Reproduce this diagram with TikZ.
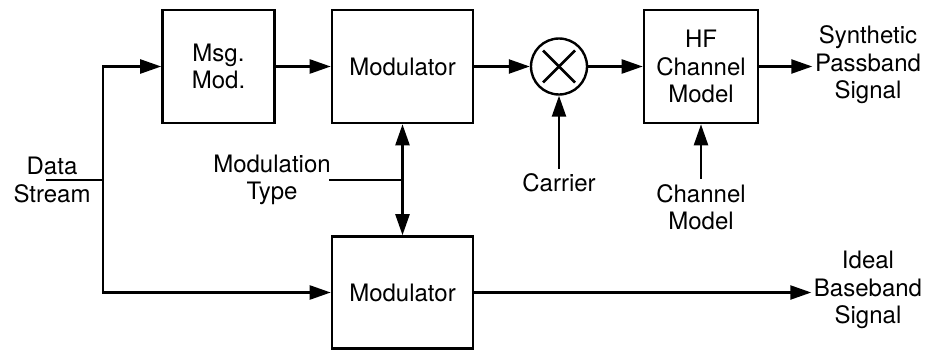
\documentclass[tikz,border=0pt]{standalone}
\usepackage{fontspec}
\setmainfont{TeX Gyre Heros}
\usetikzlibrary{arrows.meta,calc}
\begin{document}
\begin{tikzpicture}[x=1pt,y=-1pt,
  line width=2.4pt,
  >={Triangle[length=21pt,width=14pt]},
  txt/.style={font=\fontsize{24}{27.5}\selectfont, align=center, inner sep=1pt},
  blk/.style={txt, draw, line width=2.6pt, inner sep=0pt},
  lbl/.style={txt, inner sep=4pt}]
\useasboundingbox (0,0) rectangle (926,351);
% blocks
\node[blk, minimum width=112pt, minimum height=113pt] (msg) at (218.5,66.5) {Msg.\\Mod.};
\node[blk, minimum width=141pt, minimum height=113pt] (mod1) at (402.5,66.5) {Modulator};
\node[draw, circle, line width=2.4pt, minimum size=56pt, inner sep=0pt] (mult) at (559,66.5) {};
\node[blk, minimum width=114pt, minimum height=113pt] (hf) at (701,66.5) {HF\\Channel\\Model};
\node[blk, minimum width=141pt, minimum height=112pt] (mod2) at (402.5,292.5) {Modulator};
% labels
\node[txt] (data) at (52,180) {Data\\Stream};
\node[txt] (mtype) at (272,180) {Modulation\\Type};
\node[lbl] (carrier) at (559,183) {Carrier};
\node[lbl] (chm) at (701,207) {Channel\\Model};
\node[txt, inner sep=1.5pt] (sp) at (868,65) {Synthetic\\Passband\\Signal};
\node[txt, inner sep=1.5pt] (ibs) at (868,290) {Ideal\\Baseband\\Signal};
% coordinates
\coordinate (dsin) at (46,180);
\coordinate (split) at (103,180);
\coordinate (mtin) at (329,180);
\coordinate (mj) at (402.5,180);
% X in multiplier
\draw[line width=2.8pt] ([shift={(-16,-16)}]mult.center) -- ([shift={(16,16)}]mult.center);
\draw[line width=2.8pt] ([shift={(-16,16)}]mult.center) -- ([shift={(16,-16)}]mult.center);
% connectors
\draw (dsin) -- (split);
\draw[->] (split) |- (msg.west);
\draw[->] (split) |- (mod2.west);
\draw[->] (msg.east) -- (mod1.west);
\draw[->] (mod1.east) -- (mult.west);
\draw[->] (mult.east) -- (hf.west);
\draw[->] (hf.east) -- (hf.east -| sp.west);
\draw[->] (carrier.north) -- (mult.south);
\draw[->] (chm.north) -- (hf.south);
\draw (mtin) -- (mj);
\draw[->] (mj) -- (mod1.south);
\draw[->] (mj) -- (mod2.north);
\draw[->] (mod2.east) -- (mod2.east -| ibs.west);
\end{tikzpicture}
\end{document}
